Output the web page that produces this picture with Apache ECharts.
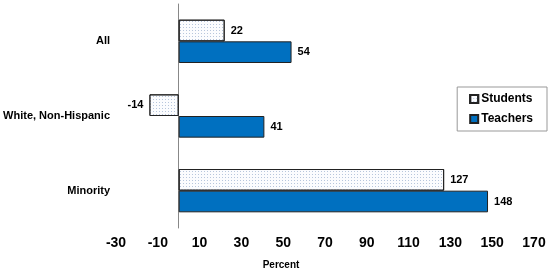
<!DOCTYPE html>
<html>
<head>
<meta charset="utf-8">
<script src="https://cdn.jsdelivr.net/npm/echarts@6/dist/echarts.min.js"></script>
<style>
  html, body { margin: 0; padding: 0; background: #fff; }
  #chart { width: 550px; height: 272px; }
</style>
</head>
<body>
<div id="chart"></div>
<script>
var groups = ['All', 'White, Non-Hispanic', 'Minority'];
var students = [22, -14, 127];
var teachers = [54, 41, 148];
var xTicks = [-30, 170, 20];

var font = '"Liberation Sans", Arial, sans-serif';

// negative values get their label on the left side of the bar
function withLabels(vals) {
  return vals.map(function (v) {
    return v < 0 ? { value: v, label: { position: 'left' } } : v;
  });
}

echarts.init(document.querySelector('#chart')).setOption({
  animation: false,
  grid: { left: 116, right: 16, top: 4, bottom: 44, outerBoundsMode: 'none', containLabel: false },
  legend: {
    orient: 'vertical',
    right: 3,
    top: 87,
    padding: [6, 14, 6, 12],
    itemGap: 8,
    itemWidth: 8,
    itemHeight: 8,
    borderColor: '#999',
    borderWidth: 1,
    icon: 'rect',
    data: ['Students', 'Teachers'],
    textStyle: { fontFamily: font, fontWeight: 'bold', fontSize: 12, color: '#000', padding: [0, 0, 0, -2] }
  },
  xAxis: {
    type: 'value',
    min: xTicks[0],
    max: xTicks[1],
    interval: xTicks[2],
    name: 'Percent',
    nameLocation: 'middle',
    nameGap: 32,
    nameTextStyle: { fontFamily: font, fontWeight: 'bold', fontSize: 10, color: '#000', padding: [0, 88, 0, 0] },
    axisLine: { onZero: false, lineStyle: { color: '#888' } },
    axisTick: { length: 4, lineStyle: { color: '#888' } },
    axisLabel: { fontFamily: font, fontWeight: 'bold', fontSize: 14, color: '#000', margin: 8 },
    splitLine: { show: false }
  },
  yAxis: {
    type: 'category',
    inverse: true,
    data: groups,
    axisLine: { onZero: true, lineStyle: { color: '#888' } },
    axisTick: { length: 4, lineStyle: { color: '#888' } },
    axisLabel: { fontFamily: font, fontWeight: 'bold', fontSize: 11, color: '#000', margin: 6 }
  },
  series: [{
    name: 'Students',
    type: 'bar',
    data: withLabels(students),
    barGap: '0%',
    barCategoryGap: '42%',
    itemStyle: {
      color: '#fbfcfe',
      borderColor: '#222',
      borderWidth: 1,
      decal: {
        symbol: 'rect',
        symbolSize: 1,
        dashArrayX: [1, 2],
        dashArrayY: [1, 2],
        rotation: 0,
        color: '#b7c6dc'
      }
    },
    label: {
      show: true,
      position: 'right',
      distance: 6,
      fontFamily: font, fontWeight: 'bold', fontSize: 11, color: '#000'
    }
  }, {
    name: 'Teachers',
    type: 'bar',
    data: withLabels(teachers),
    itemStyle: { color: '#0070c0', borderColor: '#222', borderWidth: 1 },
    label: {
      show: true,
      position: 'right',
      distance: 6,
      fontFamily: font, fontWeight: 'bold', fontSize: 11, color: '#000'
    }
  }]
});
</script>
</body>
</html>
